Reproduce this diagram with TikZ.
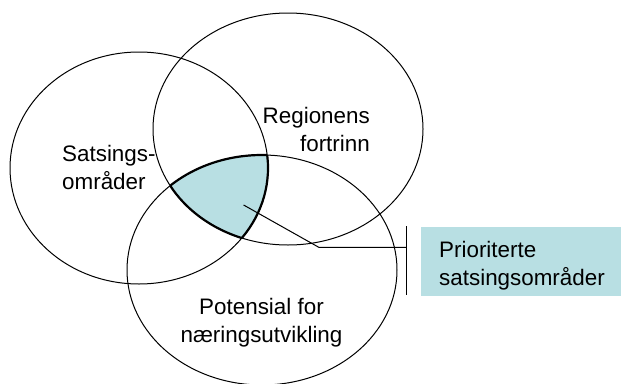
\documentclass[tikz,border=0pt]{standalone}
\usepackage{fontspec}
\setmainfont{Liberation Sans}
\definecolor{prioblue}{RGB}{184,223,227}
\begin{document}
\begin{tikzpicture}[x=1pt,y=-1pt,
  ring/.style={draw=black, line width=1pt},
  rim/.style={draw=black, line width=2.2pt},
  lbl/.style={inner sep=0pt, font=\fontsize{22.4}{27.5}\selectfont},
  leader/.style={draw=black, line width=1pt}]
\useasboundingbox (0,0) rectangle (621,383);
\def\ellA{(139,168) ellipse [x radius=129, y radius=116]}
\def\ellB{(288,129) ellipse [x radius=135, y radius=116]}
\def\ellC{(262,270) ellipse [x radius=135, y radius=115]}
% shaded triple intersection
\begin{scope}
  \clip \ellA; \clip \ellB;
  \fill[prioblue] \ellC;
\end{scope}
% circles
\draw[ring] \ellA;
\draw[ring] \ellB;
\draw[ring] \ellC;
% thick rim of the intersection
\begin{scope}\clip \ellB; \clip \ellC; \draw[rim] \ellA; \end{scope}
\begin{scope}\clip \ellA; \clip \ellC; \draw[rim] \ellB; \end{scope}
\begin{scope}\clip \ellA; \clip \ellB; \draw[rim] \ellC; \end{scope}
% labels
\node[lbl, align=left, anchor=base west] (sats) at (62,189) {Satsings-\\områder};
\node[lbl, align=right, anchor=base east] (reg) at (370,151) {Regionens\\fortrinn};
\node[lbl, align=center, anchor=base] (pot) at (261.5,342) {Potensial for\\næringsutvikling};
% callout box
\node[fill=prioblue, inner sep=0pt, minimum width=200pt, minimum height=69pt, anchor=north west] (priobox) at (421,227) {};
\node[lbl, align=left, anchor=base west] (prio) at (439,285) {Prioriterte\\satsingsområder};
% bracket bar and leader
\coordinate (bartop) at (406.7,226);
\coordinate (barbot) at (406.7,295);
\coordinate (barmid) at (406.7,247.3);
\coordinate (pin) at (243.6,205);
\coordinate (elbow) at (318.8,247.3);
\draw[leader] (bartop) -- (barbot);
\draw[leader] (pin) -- (elbow) -- (barmid);
\end{tikzpicture}
\end{document}
